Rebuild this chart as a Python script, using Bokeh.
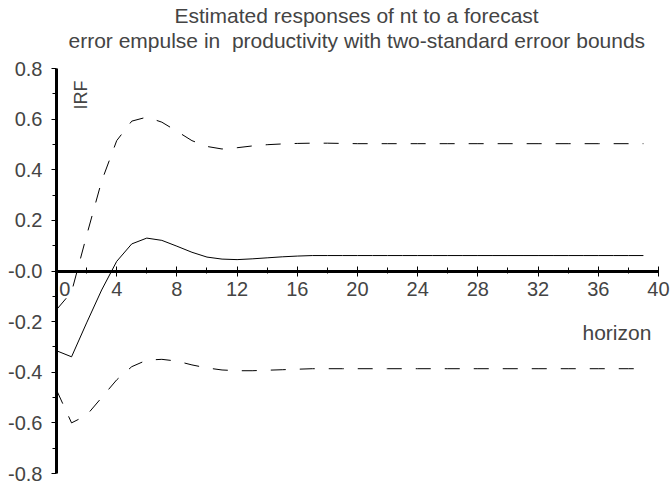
from bokeh.plotting import figure
from bokeh.models import LinearAxis, FixedTicker, Range1d, Title, Label, PrintfTickFormatter, ColumnDataSource
from bokeh.embed import file_html
from bokeh.resources import INLINE
import math

# ---- data ----
horizon = list(range(40))
irf = [-0.315, -0.339, -0.205, -0.075, 0.038, 0.107, 0.130, 0.121, 0.098, 0.074,
       0.055, 0.047, 0.045, 0.048, 0.052, 0.056, 0.059, 0.061, 0.061, 0.061,
       0.061, 0.061, 0.061, 0.061, 0.061, 0.061, 0.061, 0.061, 0.061, 0.061,
       0.061, 0.061, 0.061, 0.061, 0.061, 0.061, 0.061, 0.061, 0.061, 0.061]
upper = [-0.153, -0.083, 0.140, 0.355, 0.515, 0.592, 0.608, 0.588, 0.552, 0.515,
         0.492, 0.482, 0.487, 0.494, 0.499, 0.502, 0.504, 0.505, 0.505, 0.504,
         0.503, 0.503, 0.503, 0.503, 0.503, 0.503, 0.503, 0.503, 0.503, 0.503,
         0.503, 0.503, 0.503, 0.503, 0.503, 0.503, 0.503, 0.503, 0.503, 0.503]
lower = [-0.470, -0.600, -0.570, -0.500, -0.430, -0.378, -0.352, -0.349, -0.356, -0.371,
         -0.383, -0.391, -0.394, -0.394, -0.392, -0.390, -0.388, -0.386, -0.386, -0.386,
         -0.386, -0.386, -0.386, -0.386, -0.386, -0.386, -0.386, -0.386, -0.386, -0.386,
         -0.386, -0.386, -0.386, -0.386, -0.386, -0.386, -0.386, -0.386, -0.386, -0.386]

x_ticks = [0, 4, 8, 12, 16, 20, 24, 28, 32, 36, 40]
x_minor = [2, 6, 10, 14, 18, 22, 26, 30, 34, 38]
y_ticks = [-0.8, -0.6, -0.4, -0.2, 0, 0.2, 0.4, 0.6, 0.8]
y_minor = [-0.7, -0.5, -0.3, -0.1, 0.1, 0.3, 0.5, 0.7]

title1 = "Estimated responses of nt to a forecast"
title2 = "error empulse in \u00a0productivity with two-standard erroor bounds"
x_label = "horizon"
y_label = "IRF"

FONT = "Liberation Sans"
TITLE_FS = "21px"
TICK_FS = "20px"

src = ColumnDataSource(dict(h=horizon, irf=irf, upper=upper, lower=lower))

p = figure(width=670, height=487, x_range=Range1d(0, 40.8), y_range=Range1d(-0.8, 0.8),
           x_axis_location=None, y_axis_location=None,
           output_backend="svg", toolbar_location=None, title=title1,
           min_border_left=56, min_border_right=0, min_border_top=68, min_border_bottom=14)
p.outline_line_color = None
p.grid.grid_line_color = None

p.title.text_font = FONT
p.title.text_font_size = TITLE_FS
p.title.text_font_style = "normal"
p.title.align = "left"
p.title.standoff = 0
p.title.offset = 118

t2 = Title(text=title2, text_font=FONT, text_font_size=TITLE_FS, text_font_style="normal",
           align="left", standoff=0, offset=12,
           padding=dict(top=0, right=0, bottom=17, left=0))
p.add_layout(t2, "above")

yaxis = LinearAxis(ticker=FixedTicker(ticks=y_ticks, minor_ticks=y_minor),
                   formatter=PrintfTickFormatter(format="%.1f"),
                   major_label_overrides={0: "-0.0"})
yaxis.axis_line_width = 3
yaxis.major_tick_in = 0
yaxis.major_tick_out = 5
yaxis.minor_tick_in = 0
yaxis.minor_tick_out = 4
yaxis.major_label_standoff = 9
yaxis.major_label_text_font = FONT
yaxis.major_label_text_font_size = TICK_FS
p.add_layout(yaxis, "left")

xaxis = LinearAxis(ticker=FixedTicker(ticks=x_ticks, minor_ticks=x_minor),
                   fixed_location=0, bounds=(0, 40),
                   major_label_overrides={0: "\u00a0\u00a0\u00a00"})
xaxis.axis_line_width = 3
xaxis.major_tick_in = 5
xaxis.major_tick_out = 5
xaxis.minor_tick_in = 4
xaxis.minor_tick_out = 2
xaxis.major_label_standoff = 2
xaxis.major_label_text_font = FONT
xaxis.major_label_text_font_size = TICK_FS
p.add_layout(xaxis, "below")

p.line("h", "irf", source=src, line_color="black", line_width=1)
p.line("h", "upper", source=src, line_color="black", line_width=1, line_dash="15 14")
p.line("h", "lower", source=src, line_color="black", line_width=1, line_dash="15 14")

p.add_layout(Label(x=37.24, y=-0.244, text=x_label, text_font=FONT, text_font_size="21px",
                   text_align="center", text_baseline="alphabetic"))
p.add_layout(Label(x=1.62, y=0.695, text=y_label, text_font=FONT, text_font_size="18px",
                   angle=math.pi / 2, text_align="center", text_baseline="middle"))

open("out.html", "w").write(file_html(p, INLINE))
